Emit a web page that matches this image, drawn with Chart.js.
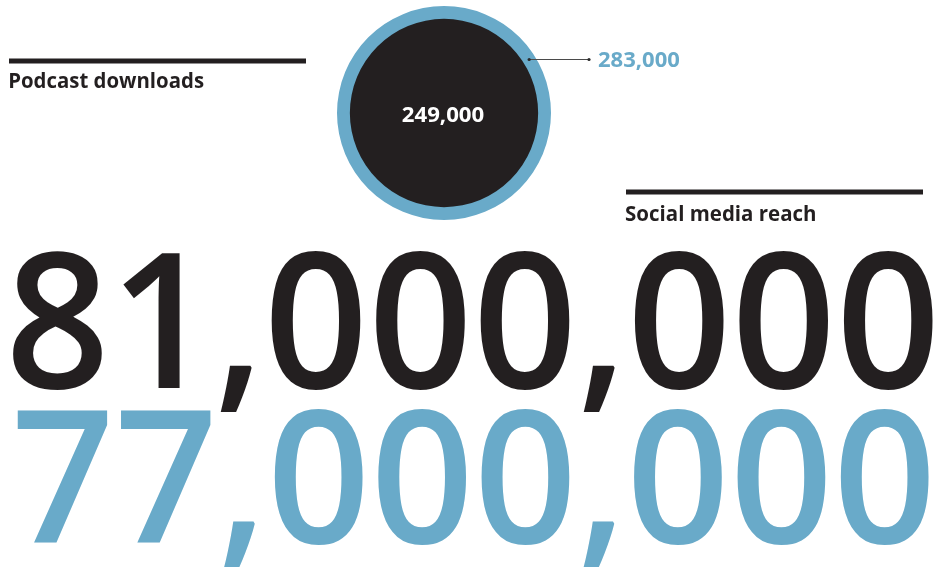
<!DOCTYPE html>
<html>
<head>
<meta charset="utf-8">
<script src="https://cdn.jsdelivr.net/npm/chart.js@4.4.1/dist/chart.umd.min.js"></script>
<style>
  html, body { margin: 0; padding: 0; background: #ffffff; }
  #wrap { position: relative; width: 937px; height: 572px; overflow: hidden; }
  #chart { position: absolute; left: 0; top: 0; }
  #labels { position: absolute; left: 0; top: 0; }
</style>
</head>
<body>
<div id="wrap">
  <canvas id="chart" width="937" height="572"></canvas>
  <svg id="labels" width="937" height="572" xmlns="http://www.w3.org/2000/svg"></svg>
</div>
<script>
// ---- data ----
const periods = ['Current', 'Previous'];
const podcastDownloads = [249000, 283000];
const socialMediaReach = [81000000, 77000000];
const metricTitles = ['Podcast downloads', 'Social media reach'];

// ---- styling ----
const INK = '#231f20';
const BLUE = '#69aac9';
const periodColors = [INK, BLUE];
const FAMILY = '"Open Sans", "Noto Sans", sans-serif';

const fmt = v => v.toLocaleString('en-US');

// SVG text helper: sizes the font from a cap height and stretches it to an ink box
const svg = document.getElementById('labels');
const mctx = document.createElement('canvas').getContext('2d');
function placeText(str, o) {
  const probe = 100;
  mctx.font = `${o.weight} ${probe}px ${FAMILY}`;
  const cap = mctx.measureText('H').actualBoundingBoxAscent / probe;
  const size = (o.baseline - o.top) / cap;
  mctx.font = `${o.weight} ${size}px ${FAMILY}`;
  const m = mctx.measureText(str);
  const lb = -m.actualBoundingBoxLeft;
  const rb = m.actualBoundingBoxRight;
  const k = (o.right - o.left) / (rb - lb);
  const t = document.createElementNS('http://www.w3.org/2000/svg', 'text');
  t.setAttribute('x', (o.left - lb * k).toFixed(2));
  t.setAttribute('y', o.baseline);
  t.setAttribute('font-family', FAMILY.replace(/"/g, "'"));
  t.setAttribute('font-weight', o.weight);
  t.setAttribute('font-size', size.toFixed(2));
  t.setAttribute('fill', o.color);
  t.setAttribute('textLength', (m.width * k).toFixed(2));
  t.setAttribute('lengthAdjust', 'spacingAndGlyphs');
  t.textContent = str;
  svg.appendChild(t);
  return t;
}
function rule(x1, x2, y, w) {
  const r = document.createElementNS('http://www.w3.org/2000/svg', 'rect');
  r.setAttribute('x', x1); r.setAttribute('y', y - w / 2);
  r.setAttribute('width', x2 - x1); r.setAttribute('height', w);
  r.setAttribute('fill', INK);
  svg.appendChild(r);
}

// section headings
rule(9, 306, 61, 5);
placeText(metricTitles[0], { weight: 700, color: INK, left: 10, right: 204, top: 71.7, baseline: 87.7 });
rule(626, 923, 192, 5);
placeText(metricTitles[1], { weight: 700, color: INK, left: 626, right: 815, top: 205, baseline: 221 });

// big social reach figures (previous drawn first, current on top)
placeText(fmt(socialMediaReach[1]), { weight: 600, color: periodColors[1], left: 17, right: 929, top: 410, baseline: 543 });
placeText(fmt(socialMediaReach[0]), { weight: 600, color: periodColors[0], left: 13, right: 933, top: 252.5, baseline: 388 });

// podcast circle labels, positioned from the radial scale after drawing
const innerLabel = placeText(fmt(podcastDownloads[0]), { weight: 700, color: '#ffffff', left: 402, right: 484, top: 106, baseline: 121.7 });
const outerLabel = placeText(fmt(podcastDownloads[1]), { weight: 700, color: periodColors[1], left: 599, right: 681, top: 52.3, baseline: 67.3 });

const leaderPlugin = {
  id: 'leader',
  afterDraw(chart) {
    const s = chart.scales.r;
    const cx = s.xCenter, cy = s.yCenter;
    const rIn = s.getDistanceFromCenterForValue(podcastDownloads[0]);
    const rOut = s.getDistanceFromCenterForValue(podcastDownloads[1]);
    const rMid = (rIn + rOut) / 2;
    const y = cy - rOut / 2;
    const x0 = cx + Math.sqrt(rMid * rMid - (cy - y) * (cy - y));
    const x1 = cx + rOut + 38;
    const c = chart.ctx;
    c.save();
    c.strokeStyle = '#4a4a4a';
    c.fillStyle = '#2a2a2a';
    c.lineWidth = 1;
    c.beginPath(); c.moveTo(x0, y); c.lineTo(x1, y); c.stroke();
    [x0, x1].forEach(x => { c.beginPath(); c.arc(x, y, 1.6, 0, Math.PI * 2); c.fill(); });
    c.restore();
    // keep the value labels tied to the circle geometry
    const wIn = parseFloat(innerLabel.getAttribute('textLength'));
    innerLabel.setAttribute('x', (cx - wIn / 2 - 1).toFixed(2));
    outerLabel.setAttribute('x', (x1 + 9).toFixed(2));
  }
};

new Chart(document.getElementById('chart'), {
  type: 'polarArea',
  data: {
    labels: [metricTitles[0]],
    datasets: periods.map((p, i) => ({
      label: p,
      data: [podcastDownloads[i]],
      backgroundColor: periodColors[i],
      borderWidth: 0
    }))
  },
  options: {
    responsive: false,
    animation: false,
    layout: { padding: { left: 337, right: 386, top: 6, bottom: 352 } },
    plugins: { legend: { display: false }, tooltip: { enabled: false } },
    scales: {
      r: {
        min: 0,
        max: Math.max(...podcastDownloads),
        ticks: { display: false },
        grid: { display: false },
        angleLines: { display: false },
        pointLabels: { display: false }
      }
    }
  },
  plugins: [leaderPlugin]
});
</script>
</body>
</html>
